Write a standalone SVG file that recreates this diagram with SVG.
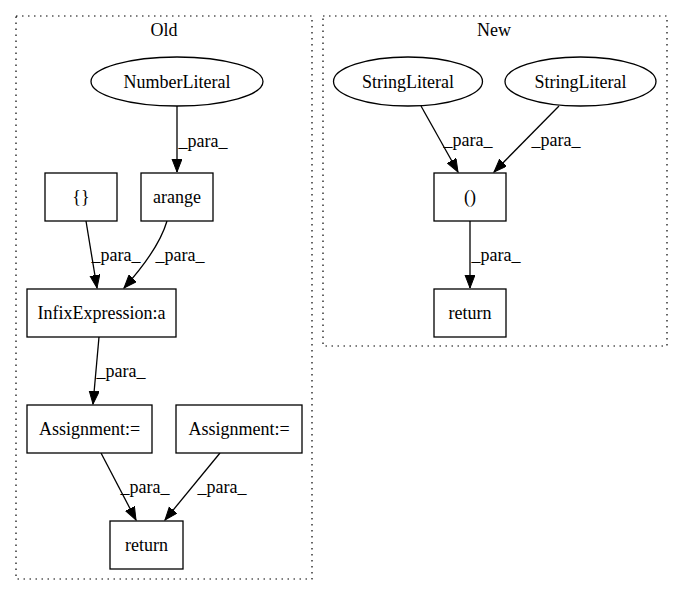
<svg xmlns="http://www.w3.org/2000/svg" width="683" height="596" viewBox="0 0 683 596">
<style>
text { font-family: "Liberation Serif", "Times New Roman", serif; font-size: 18px; fill: #000; text-anchor: middle; }
.cluster { fill: none; stroke: #000; stroke-width: 1.2; stroke-dasharray: 1.5,4.5; }
.node rect, .node ellipse { fill: #fff; stroke: #000; stroke-width: 1.3; }
.edge { fill: none; stroke: #000; stroke-width: 1.3; marker-end: url(#arrow); }
</style>
<defs>
<marker id="arrow" markerUnits="userSpaceOnUse" markerWidth="14" markerHeight="11" refX="13" refY="5" orient="auto" viewBox="0 0 14 11">
<path d="M0,0 L13,5 L0,10 z" fill="#000" stroke="#000" stroke-width="1"/>
</marker>
</defs>
<rect width="683" height="596" fill="#fff"/>
<g id="cluster_old">
<rect class="cluster" x="16" y="16" width="296" height="563"/>
<text x="164" y="36">Old</text>
</g>
<g id="cluster_new">
<rect class="cluster" x="323" y="16" width="344" height="330"/>
<text x="494" y="36">New</text>
</g>
<g id="connectors">
<path class="edge" d="M177,106 L177,172"/>
<text x="203" y="147">_para_</text>
<path class="edge" d="M86,221 L97,288"/>
<text x="116" y="261">_para_</text>
<path class="edge" d="M167,221 C160,245 142,268 124,288"/>
<text x="180" y="261">_para_</text>
<path class="edge" d="M99,337 L93,404"/>
<text x="121" y="377">_para_</text>
<path class="edge" d="M101,453 L136,520"/>
<text x="145" y="493">_para_</text>
<path class="edge" d="M220,453 L165,520"/>
<text x="222" y="493">_para_</text>
<path class="edge" d="M421,106 L458,172"/>
<text x="468" y="146">_para_</text>
<path class="edge" d="M559,106 L494,172"/>
<text x="556" y="146">_para_</text>
<path class="edge" d="M470,221 L470,288"/>
<text x="496" y="261">_para_</text>
</g>
<g id="n_numberliteral" class="node">
<ellipse cx="177" cy="81.5" rx="86" ry="24.5"/>
<text x="177" y="88">NumberLiteral</text>
</g>
<g id="n_braces" class="node">
<rect x="45" y="173" width="72" height="48"/>
<text x="81" y="203">{}</text>
</g>
<g id="n_arange" class="node">
<rect x="141" y="173" width="72" height="48"/>
<text x="177" y="203">arange</text>
</g>
<g id="n_infix" class="node">
<rect x="27" y="289" width="149" height="48"/>
<text x="101.5" y="319">InfixExpression:a</text>
</g>
<g id="n_assign1" class="node">
<rect x="27" y="405" width="125" height="48"/>
<text x="89.5" y="435">Assignment:=</text>
</g>
<g id="n_assign2" class="node">
<rect x="176" y="405" width="126" height="48"/>
<text x="239" y="435">Assignment:=</text>
</g>
<g id="n_return_old" class="node">
<rect x="110" y="521" width="73" height="48"/>
<text x="146.5" y="551">return</text>
</g>
<g id="n_string1" class="node">
<ellipse cx="408" cy="81.5" rx="74.5" ry="24.5"/>
<text x="408" y="88">StringLiteral</text>
</g>
<g id="n_string2" class="node">
<ellipse cx="580.5" cy="81.5" rx="75.5" ry="24.5"/>
<text x="580.5" y="88">StringLiteral</text>
</g>
<g id="n_paren" class="node">
<rect x="434" y="173" width="72" height="48"/>
<text x="470" y="203">()</text>
</g>
<g id="n_return_new" class="node">
<rect x="434" y="289" width="72" height="48"/>
<text x="470" y="319">return</text>
</g>
</svg>
